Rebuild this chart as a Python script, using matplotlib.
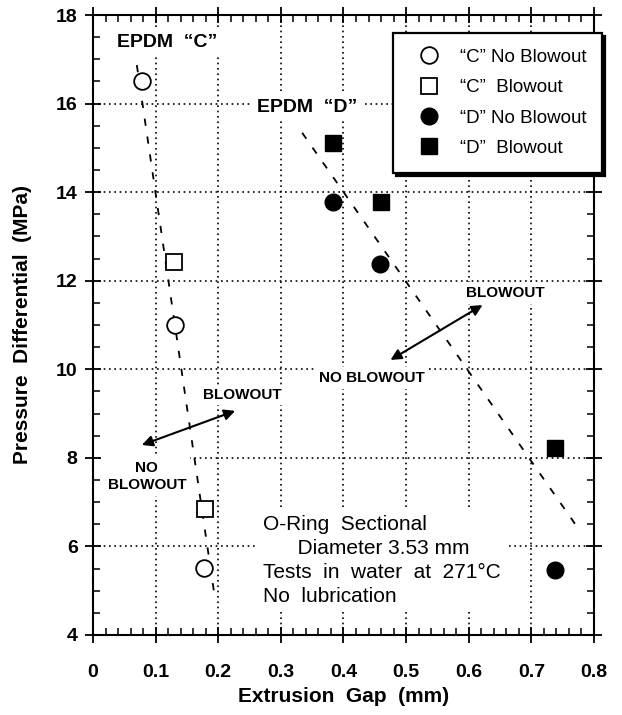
import matplotlib
matplotlib.use("Agg")
import matplotlib.pyplot as plt
from matplotlib.ticker import MultipleLocator

plt.rcParams['font.family'] = ['Liberation Sans', 'DejaVu Sans']

# Data
c_noblow_x = [0.078, 0.131, 0.177]
c_noblow_y = [16.52, 11.0, 5.52]
c_blow_x = [0.130, 0.179]
c_blow_y = [12.42, 6.85]
d_noblow_x = [0.384, 0.459, 0.738]
d_noblow_y = [13.77, 12.38, 5.46]
d_blow_x = [0.384, 0.460, 0.738]
d_blow_y = [15.12, 13.77, 8.22]

c_line_x = [0.070, 0.195]
c_line_y = [16.87, 4.80]
d_line_x = [0.334, 0.774]
d_line_y = [15.34, 6.42]

xticks = [0, 0.1, 0.2, 0.3, 0.4, 0.5, 0.6, 0.7, 0.8]
xticklabels = ['0', '0.1', '0.2', '0.3', '0.4', '0.5', '0.6', '0.7', '0.8']
yticks = [4, 6, 8, 10, 12, 14, 16, 18]

fig = plt.figure(figsize=(6.22, 7.15), dpi=100)
ax = fig.add_axes([0.1495, 0.112, 0.8055, 0.867])
ax.set_xlim(0, 0.8)
ax.set_ylim(4, 18)
ax.set_axisbelow(True)

ax.set_xticks(xticks)
ax.set_xticklabels(xticklabels)
ax.set_yticks(yticks)
ax.xaxis.set_minor_locator(MultipleLocator(0.02))
ax.yaxis.set_minor_locator(MultipleLocator(0.5))
ax.tick_params(which='major', direction='inout', length=12, width=1.3,
               top=True, right=True, labelsize=14)
ax.tick_params(which='minor', direction='in', length=5, width=1.1,
               top=True, right=True)
for lab in ax.get_xticklabels() + ax.get_yticklabels():
    lab.set_fontweight('bold')
ax.tick_params(axis='x', pad=15)
ax.tick_params(axis='y', pad=5)
for s in ax.spines.values():
    s.set_linewidth(1.5)

ax.grid(True, which='major', color='black', linestyle=(0, (1, 2.2)), linewidth=1.2)

# dashed trend lines
ax.plot(c_line_x, c_line_y, color='black', linestyle=(0, (4, 6)), linewidth=1.3, zorder=2)
ax.plot(d_line_x, d_line_y, color='black', linestyle=(0, (4, 6)), linewidth=1.3, zorder=2)

ms = 12
ax.plot(c_noblow_x, c_noblow_y, 'o', ms=ms, mfc='white', mec='black', mew=1.3,
        linestyle='none', label='\u201cC\u201d No Blowout', zorder=4)
ax.plot(c_blow_x, c_blow_y, 's', ms=ms - 1, mfc='white', mec='black', mew=1.3,
        linestyle='none', label='\u201cC\u201d  Blowout', zorder=4)
ax.plot(d_noblow_x, d_noblow_y, 'o', ms=ms, mfc='black', mec='black',
        linestyle='none', label='\u201cD\u201d No Blowout', zorder=4)
ax.plot(d_blow_x, d_blow_y, 's', ms=ms - 1, mfc='black', mec='black',
        linestyle='none', label='\u201cD\u201d  Blowout', zorder=4)

leg = ax.legend(loc='upper right', bbox_to_anchor=(1.016, 0.971), fontsize=13.5,
                frameon=True, fancybox=False, edgecolor='black',
                shadow={'color': 'black', 'alpha': 1.0},
                borderpad=0.85, labelspacing=0.7, handlelength=2.1,
                handletextpad=0.6, borderaxespad=0)
leg.get_frame().set_linewidth(1.6)
leg.set_zorder(6)

wb = dict(facecolor='white', edgecolor='none', pad=4)

ax.text(0.038, 17.37, 'EPDM  \u201cC\u201d', fontsize=14, fontweight='bold',
        ha='left', va='center', bbox=wb, zorder=3)
ax.text(0.262, 15.92, 'EPDM  \u201cD\u201d', fontsize=14, fontweight='bold',
        ha='left', va='center', bbox=wb, zorder=3)

ax.text(0.238, 9.42, 'BLOWOUT', fontsize=11, fontweight='bold',
        ha='center', va='center', bbox=dict(facecolor='white', edgecolor='none', pad=2), zorder=3)
ax.text(0.086, 7.58, 'NO\nBLOWOUT', fontsize=11, fontweight='bold',
        ha='center', va='center', linespacing=1.25,
        bbox=dict(facecolor='white', edgecolor='none', pad=3), zorder=3)
ax.text(0.659, 11.72, 'BLOWOUT', fontsize=11, fontweight='bold',
        ha='center', va='center', bbox=dict(facecolor='white', edgecolor='none', pad=3), zorder=3)
ax.text(0.446, 9.80, 'NO BLOWOUT', fontsize=11, fontweight='bold',
        ha='center', va='center', bbox=dict(facecolor='white', edgecolor='none', pad=3), zorder=3)

arrowprops = dict(arrowstyle='<|-|>', color='black', lw=1.5, mutation_scale=16,
                  shrinkA=0, shrinkB=0)
ax.annotate('', xy=(0.227, 9.06), xytext=(0.078, 8.29), arrowprops=arrowprops, zorder=3)
ax.annotate('', xy=(0.622, 11.45), xytext=(0.475, 10.21), arrowprops=arrowprops, zorder=3)

ax.text(0.272, 5.68,
        'O-Ring  Sectional\n      Diameter 3.53 mm\nTests  in  water  at  271\u00b0C\nNo  lubrication',
        fontsize=15, ha='left', va='center', linespacing=1.32,
        bbox=dict(facecolor='white', edgecolor='none', pad=4), zorder=3)

ax.set_xlabel('Extrusion  Gap  (mm)', fontsize=15, fontweight='bold', labelpad=4)
ax.set_ylabel('Pressure  Differential  (MPa)', fontsize=15, fontweight='bold', labelpad=17)

fig.savefig('out.png', dpi=100)
